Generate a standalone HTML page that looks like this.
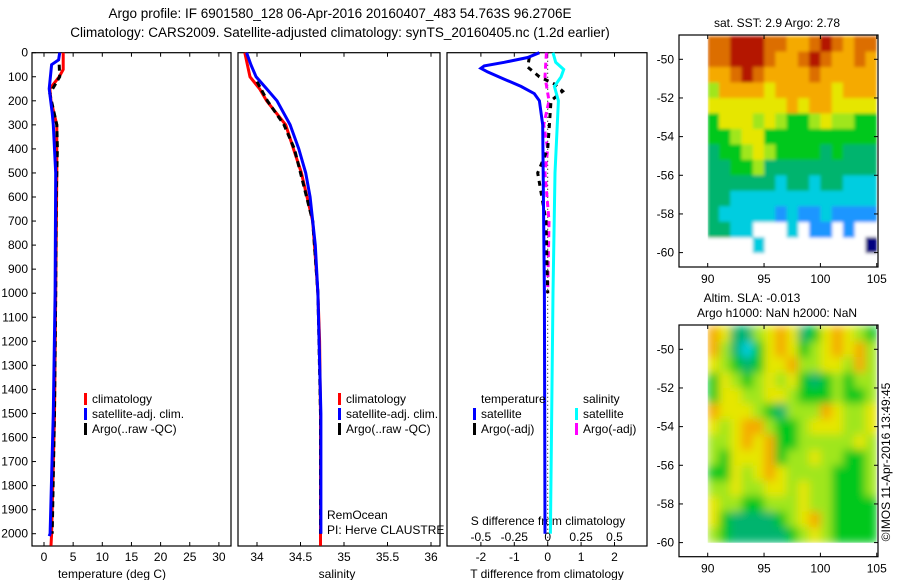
<!DOCTYPE html>
<html><head><meta charset="utf-8"><style>
body{margin:0;background:#fff;}
svg{display:block;font-family:"Liberation Sans",sans-serif;}
text{fill:#000;}
</style></head><body>
<svg id="c" width="900" height="580" viewBox="0 0 900 580" xmlns="http://www.w3.org/2000/svg">
<defs>
<filter id="blurA" x="-5%" y="-5%" width="110%" height="110%"><feGaussianBlur stdDeviation="1.6" edgeMode="duplicate"/></filter>
<filter id="blurB" x="-5%" y="-5%" width="110%" height="110%"><feGaussianBlur stdDeviation="4.5" edgeMode="duplicate"/></filter>
<clipPath id="clipA"><rect x="707.7" y="35" width="169" height="232"/></clipPath>
<clipPath id="clipB"><rect x="707.7" y="325" width="169" height="217.7"/></clipPath>
</defs>
<text x="340" y="18" font-size="13.5" text-anchor="middle">Argo profile: IF 6901580_128 06-Apr-2016 20160407_483 54.763S 96.2706E</text>
<text x="340" y="37" font-size="13.5" text-anchor="middle">Climatology: CARS2009. Satellite-adjusted climatology: synTS_20160405.nc (1.2d earlier)</text>
<g clip-path="url(#clipA)"><g id="mapA" filter="url(#blurA)"></g></g>
<g clip-path="url(#clipB)"><g id="mapB" filter="url(#blurB)"></g></g>
<g id="g"></g>
</svg>
<script>
// ---- data ----
const depthTicks=[0,100,200,300,400,500,600,700,800,900,1000,1100,1200,1300,1400,1500,1600,1700,1800,1900,2000];
const tempTicks=[0,5,10,15,20,25,30];
const salTicks=[34,34.5,35,35.5,36];
const tdiffTicks=[-2,-1,0,1,2];
const sdiffTicks=[-0.5,-0.25,0,0.25,0.5];
const sdiffTickLabels=["-0.5","-0.25","0","0.25","0.5"];
const tClimDepth=[0,70,100,150,200,300,500,1000,1500,2000,2050];
const tClim=[3.3,3.3,2.6,1.0,1.2,2.2,2.2,2.0,1.8,1.3,1.2];
const tSatDepth=[0,30,50,150,250,300,500,1000,1500,2000,2010];
const tSat=[2.7,2.5,1.3,0.9,1.4,1.6,2.0,1.9,1.6,1.05,0.9];
const tArgoDepth=[50,100,170,300,400,600,1000,1500,2000];
const tArgo=[2.6,2.7,1.0,2.2,2.3,2.1,2.0,1.8,1.4];
const sClimDepth=[0,100,150,200,300,400,500,700,900,1000,1200,1500,2000,2050];
const sClim=[33.86,33.92,34.03,34.11,34.33,34.42,34.51,34.64,34.68,34.70,34.72,34.73,34.73,34.73];
const sSatDepth=[0,50,100,150,200,300,400,500,600,800,1000,1500,2000];
const sSat=[33.88,33.93,33.99,34.11,34.23,34.38,34.48,34.56,34.61,34.67,34.70,34.735,34.735];
const sArgoDepth=[120,200,300,400,500,700,1000,1500,2000];
const sArgo=[34.0,34.12,34.31,34.43,34.5,34.64,34.7,34.73,34.73];
const dTSatDepth=[0,20,40,55,65,80,110,140,170,200,300,1000,2000];
const dTSat=[-0.25,-0.6,-1.3,-1.9,-2.0,-1.8,-1.3,-0.8,-0.4,-0.25,-0.15,-0.1,-0.08];
const dSSatDepth=[0,40,70,100,140,200,500,1000,2000];
const dSSat=[0.04,0.06,0.12,0.1,0.05,0.08,0.055,0.04,0.02];
const dTArgoDepth=[20,60,100,130,160,200,300,400,500,700,1000];
const dTArgo=[-0.55,-0.6,-0.25,0.2,0.45,0.1,0.05,0.0,-0.3,-0.05,0.0];
const dSArgoDepth=[0,100,200,300,400,500,700,1000];
const dSArgo=[-0.01,-0.02,0.01,-0.03,0.0,-0.02,0.01,0.0];
const lonTicks=[90,95,100,105];
const latTicks=[-50,-52,-54,-56,-58,-60];
const sstRows=["99AAA99889A9899","99AAA9889A98898","889A98888988888","688887888887888","777777787887777","577767655676655","556775555555555","455676555545444","445564444444444","444444344344333","443333333333333","433333232232222","4433---3-22-2--","----3---------0"];
const slaRows=["874467874578765","864357875678786","765457786677686","576567675456566","577667765556556","877765466687667","767886556777667","667878556666676","657778566766556","557678766665556","667667767665556","766556667665555","754444567865555","654444456765555"];
// ---- helpers ----
const g=document.getElementById('g');
const NS="http://www.w3.org/2000/svg";
function mk(t,a,p){const e=document.createElementNS(NS,t);for(const k in a)e.setAttribute(k,a[k]);(p||g).appendChild(e);return e;}
const yD=d=>52.7+d*0.2405;
const xT=v=>44+v*5.83;
const xS=v=>257+(v-34)*87;
const xDT=v=>547.7+v*33.4;
const xDS=v=>547.7+v*133.6;
const xLon=v=>707.7+(v-90)*11.27;
const yLat1=v=>59.3+(-50-v)*19.33;
const yLat2=v=>349.3+(-50-v)*19.33;
const cmap={"0":"#00007f","1":"#0050ff","2":"#1e96ff","3":"#00cde0","4":"#00b46e","5":"#00c81e","6":"#a0e61e","7":"#e6e600","8":"#f5aa00","9":"#dc6e00","A":"#b41400"};
function box(x,y,w,h,name){const r=mk('rect',{x:x,y:y,width:w,height:h,fill:'none',stroke:'#000','stroke-width':1.2});}
function txt(x,y,s,anchor,size,name){const t=mk('text',{x:x,y:y,'font-size':size||12,'text-anchor':anchor||'middle'});t.textContent=s;return t;}
function line(xs,ds,fx,color,name,dash,w){const pts=xs.map((v,i)=>fx(v).toFixed(1)+','+yD(ds[i]).toFixed(1)).join(' ');const p=mk('polyline',{points:pts,fill:'none',stroke:color,'stroke-width':w||3});if(dash)p.setAttribute('stroke-dasharray',dash);}
const bot=546;
const panels=[[32,231],[238,440],[447,647]];
panels.forEach((p,i)=>{box(p[0],52.7,p[1]-p[0],bot-52.7,'profile-panel-'+(i+1));});
depthTicks.forEach(d=>{txt(28,yD(d)+4,String(d),'end',12,'depth-tick-label');
 mk('line',{x1:32,x2:36,y1:yD(d),y2:yD(d),stroke:'#000'});});
function xticks(ticks,fx,labels,y,name){ticks.forEach((v,i)=>{const x=fx(v);txt(x,y,labels?labels[i]:String(v),'middle',12,name);
 mk('line',{x1:x,x2:x,y1:bot,y2:bot-4,stroke:'#000'});mk('line',{x1:x,x2:x,y1:52.7,y2:56.7,stroke:'#000'});});}
xticks(tempTicks,xT,null,561,'temperature-tick-label');
xticks(salTicks,xS,null,561,'salinity-tick-label');
xticks(tdiffTicks,xDT,null,561,'tdiff-tick-label');
sdiffTicks.forEach((v,i)=>txt(xDS(v),541,sdiffTickLabels[i],'middle',12,'sdiff-tick-label'));
txt(112,578,'temperature (deg C)','middle',12,'x-axis-title-temperature');
txt(337,578,'salinity','middle',12,'x-axis-title-salinity');
txt(547,578,'T difference from climatology','middle',12,'x-axis-title-tdiff');
txt(548,525,'S difference from climatology','middle',12,'s-diff-axis-title');
const z=mk('line',{x1:xDT(0),x2:xDT(0),y1:52.7,y2:bot,stroke:'#000','stroke-dasharray':'1,3'});


line(tClim,tClimDepth,xT,'#ff0000','temp-climatology-line');
line(tArgo,tArgoDepth,xT,'#000','temp-argo-line','6,4');
line(tSat,tSatDepth,xT,'#0000ff','temp-satellite-line');
line(sClim,sClimDepth,xS,'#ff0000','sal-climatology-line');
line(sArgo,sArgoDepth,xS,'#000','sal-argo-line','6,4');
line(sSat,sSatDepth,xS,'#0000ff','sal-satellite-line');
line(dSArgo,dSArgoDepth,xDS,'#ff00ff','sdiff-argo-line','6,4');
line(dTArgo,dTArgoDepth,xDT,'#000','tdiff-argo-line','5,5');
line(dSSat,dSSatDepth,xDS,'#00ffff','sdiff-satellite-line');
line(dTSat,dTSatDepth,xDT,'#0000ff','tdiff-satellite-line');
function leg(x,y,color,label,name){const r=mk('rect',{x:x,y:y-10,width:3,height:12,fill:color});txt(x+8,y,label,'start',12,name);}
leg(84,403,'#ff0000','climatology','legend-temp-climatology');
leg(84,418,'#0000ff','satellite-adj. clim.','legend-temp-satellite');
leg(84,433,'#000','Argo(..raw -QC)','legend-temp-argo');
leg(338,403,'#ff0000','climatology','legend-sal-climatology');
leg(338,418,'#0000ff','satellite-adj. clim.','legend-sal-satellite');
leg(338,433,'#000','Argo(..raw -QC)','legend-sal-argo');
txt(481,403,'temperature','start',12,'legend-temperature-heading');
txt(583,403,'salinity','start',12,'legend-salinity-heading');
leg(473,418,'#0000ff','satellite','legend-tdiff-satellite');
leg(473,433,'#000','Argo(-adj)','legend-tdiff-argo');
leg(575,418,'#00ffff','satellite','legend-sdiff-satellite');
leg(575,433,'#ff00ff','Argo(-adj)','legend-sdiff-argo');
txt(327,519,'RemOcean','start',12,'project-label');
txt(327,534,'PI: Herve CLAUSTRE','start',12,'pi-label');
function heat(rows,yLat,parent,name,withBg){const nr=rows.length,nc=rows[0].length;const latTop=-48.8,latBot=-60;
 if(withBg){mk('rect',{x:xLon(90),y:yLat(latTop),width:xLon(105)-xLon(90),height:yLat(latBot)-yLat(latTop)+10,fill:'#fff'},parent);}
 rows.forEach((row,r)=>{for(let c=0;c<nc;c++){const ch=row[c];if(ch==='-')continue;
  const lat0=latTop-(latTop-latBot)*r/nr,lat1=latTop-(latTop-latBot)*(r+1)/nr;
  const x0=xLon(90+15*c/nc),x1=xLon(90+15*(c+1)/nc);
  const e=mk('rect',{x:x0.toFixed(1),y:yLat(lat0).toFixed(1),width:(x1-x0+0.5).toFixed(1),height:(yLat(lat1)-yLat(lat0)+0.5).toFixed(1),fill:cmap[ch]},parent);
  
  }});}
heat(sstRows,yLat1,document.getElementById('mapA'),'sst-map',true);
heat(slaRows,yLat2,document.getElementById('mapB'),'sla-map',false);
function mapAxes(top,bottom,yLat,name){box(679,top,199,bottom-top,name);
 lonTicks.forEach(v=>{const x=xLon(v);mk('line',{x1:x,x2:x,y1:bottom,y2:bottom-4,stroke:'#000'});mk('line',{x1:x,x2:x,y1:top,y2:top+4,stroke:'#000'});txt(x,bottom+16,String(v),'middle',12,name+'-lon-label');});
 latTicks.forEach(v=>{const y=yLat(v);mk('line',{x1:679,x2:683,y1:y,y2:y,stroke:'#000'});mk('line',{x1:878,x2:874,y1:y,y2:y,stroke:'#000'});txt(674,y+4,String(v),'end',12,name+'-lat-label');});}
mapAxes(35,267,yLat1,'sst-map-axes');
mapAxes(325,556.7,yLat2,'sla-map-axes');
txt(777,27,'sat. SST: 2.9 Argo: 2.78','middle',12,'sst-map-title');
txt(752,302,'Altim. SLA: -0.013','middle',12,'sla-map-title');
txt(777,317,'Argo h1000: NaN h2000: NaN','middle',12,'sla-map-subtitle');
const rt=txt(0,0,'\u00A9IMOS 11-Apr-2016 13:49:45','middle',12,'copyright-timestamp');
rt.setAttribute('transform','translate(890,462) rotate(-90)');
</script>
</body></html>
